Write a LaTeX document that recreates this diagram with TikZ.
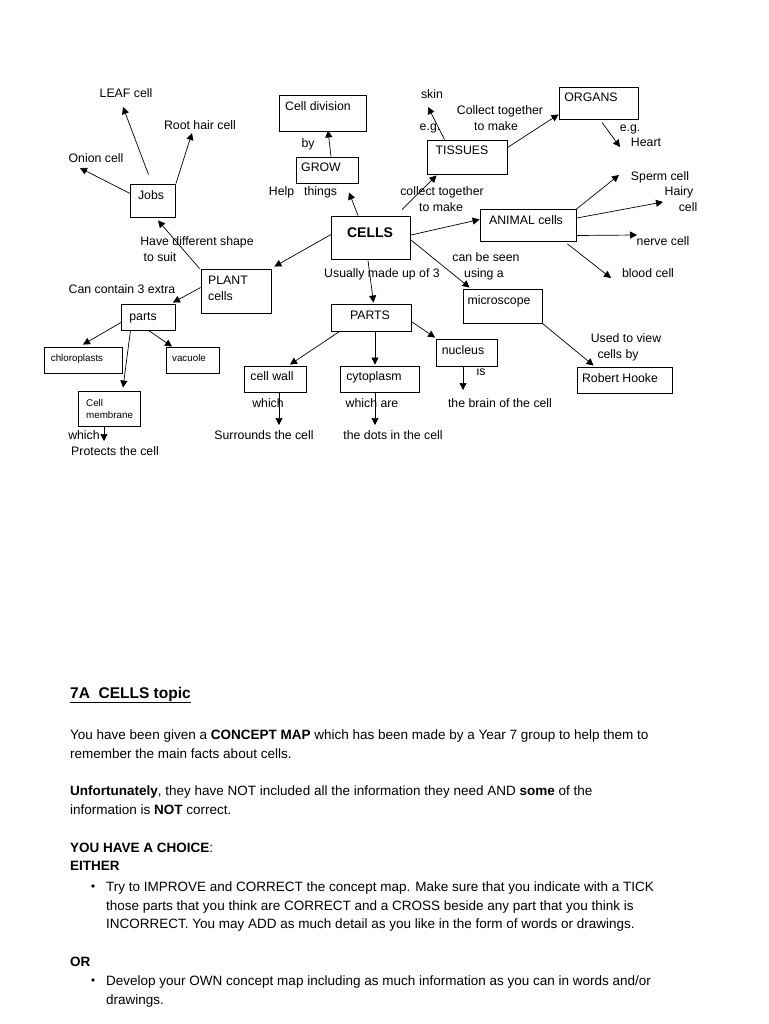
\documentclass[tikz,border=0pt]{standalone}
\usepackage{fontspec}
\setmainfont{Liberation Sans}
\usetikzlibrary{arrows.meta}
\begin{document}
\begin{tikzpicture}[x=1pt,y=-1pt,
  box/.style={draw, line width=0.9pt, inner sep=0pt},
  lbl/.style={inner sep=0pt, text height=8.5pt, text depth=2.5pt, font=\fontsize{12.3}{14}\selectfont},
  sm/.style={inner sep=0pt, text height=7pt, text depth=2pt, font=\fontsize{9.8}{11}\selectfont},
  txt/.style={inner sep=0pt, anchor=base west, font=\fontsize{13.5}{16}\selectfont},
  arr/.style={line width=0.7pt, -{Triangle[length=7pt,width=7pt]}},
]
\useasboundingbox[fill=white] (0,0) rectangle (768,1024);

% ---------- boxes ----------
\node[box, minimum width=87pt, minimum height=36pt] (celldiv) at (322.5,113) {};
\node[box, minimum width=62pt, minimum height=26pt] (grow) at (327,170) {};
\node[box, minimum width=79pt, minimum height=43pt] (cells) at (371,237.5) {};
\node[box, minimum width=80pt, minimum height=34pt] (tissues) at (467,157) {};
\node[box, minimum width=79pt, minimum height=32pt] (organs) at (598.5,103) {};
\node[box, minimum width=96pt, minimum height=32pt] (animal) at (528,225.5) {};
\node[box, minimum width=45pt, minimum height=33pt] (jobs) at (153,200.5) {};
\node[box, minimum width=70pt, minimum height=44pt] (plant) at (236,291) {};
\node[box, minimum width=54pt, minimum height=26pt] (parts) at (148.5,317) {};
\node[box, minimum width=78pt, minimum height=26pt] (chloro) at (83,360) {};
\node[box, minimum width=53pt, minimum height=26pt] (vacuole) at (192.5,360) {};
\node[box, minimum width=62pt, minimum height=35pt] (membrane) at (109,408.5) {};
\node[box, minimum width=80pt, minimum height=27pt] (PARTS) at (371,317.5) {};
\node[box, minimum width=62pt, minimum height=26pt] (cellwall) at (275,379) {};
\node[box, minimum width=79pt, minimum height=26pt] (cytoplasm) at (379.5,379) {};
\node[box, minimum width=61pt, minimum height=27pt] (nucleus) at (467,352.5) {};
\node[box, minimum width=79pt, minimum height=34pt] (microscope) at (502.5,306) {};
\node[box, minimum width=95pt, minimum height=26pt] (hooke) at (624.5,380) {};

% ---------- box texts ----------
\node[lbl] (tcelldiv) at (318,108) {Cell division};
\node[lbl] (tgrow) at (321,169) {GROW};
\node[inner sep=0pt, text height=10pt, text depth=0pt, font=\fontsize{14}{16}\selectfont\bfseries] (tcells) at (370,232) {CELLS};
\node[lbl] (ttissues) at (462,152) {TISSUES};
\node[lbl] (torgans) at (591,99) {ORGANS};
\node[lbl] (tanimal) at (526,222) {ANIMAL cells};
\node[lbl] (tjobs) at (151,197) {Jobs};
\node[lbl, anchor=west] (tplant1) at (208,281) {PLANT};
\node[lbl, anchor=west] (tplant2) at (208,297) {cells};
\node[lbl] (tparts) at (143,317) {parts};
\node[sm] (tchloro) at (77,359) {chloroplasts};
\node[sm] (tvacuole) at (189,359) {vacuole};
\node[sm, anchor=west] (tmem1) at (86,404) {Cell};
\node[sm, anchor=west] (tmem2) at (86,416) {membrane};
\node[lbl] (tPARTS) at (370,316) {PARTS};
\node[lbl] (tcellwall) at (272,377) {cell wall};
\node[lbl] (tcyto) at (374,377) {cytoplasm};
\node[lbl] (tnucleus) at (463,351) {nucleus};
\node[lbl] (tmicro) at (499,301) {microscope};
\node[lbl] (thooke) at (620,379) {Robert Hooke};

% ---------- free labels ----------
\node[lbl] (leaf) at (126,95) {LEAF cell};
\node[lbl] (root) at (200,127) {Root hair cell};
\node[lbl] (onion) at (96,160) {Onion cell};
\node[lbl] (hds1) at (197,242) {Have different shape};
\node[lbl] (hds2) at (160,258) {to suit};
\node[lbl] (cc3) at (122,290) {Can contain 3 extra};
\node[lbl] (by) at (308,145) {by};
\node[lbl] (help) at (303,193) {Help\hspace{10pt}things};
\node[lbl] (skin) at (432,96) {skin};
\node[lbl] (eg1) at (430,128) {e.g.};
\node[lbl] (ct1) at (500,112) {Collect together};
\node[lbl] (ct2) at (496,128) {to make};
\node[lbl] (eg2) at (630,129) {e.g.};
\node[lbl] (heart) at (646,144) {Heart};
\node[lbl] (ct3) at (442,193) {collect together};
\node[lbl] (ct4) at (441,209) {to make};
\node[lbl] (sperm) at (660,178) {Sperm cell};
\node[lbl] (hairy1) at (679,193) {Hairy};
\node[lbl] (hairy2) at (688,209) {cell};
\node[lbl] (nerve) at (663,242) {nerve cell};
\node[lbl] (blood) at (648,274) {blood cell};
\node[lbl] (cbs1) at (486,258) {can be seen};
\node[lbl] (cbs2) at (484,274) {using a};
\node[lbl] (usually) at (382,274) {Usually made up of 3};
\node[lbl] (used1) at (626,339) {Used to view};
\node[lbl] (used2) at (618,355) {cells by};
\node[lbl] (is) at (481,372) {is};
\node[lbl] (brain) at (500,404) {the brain of the cell};
\node[lbl] (which1) at (268,404) {which};
\node[lbl] (surr) at (264,436) {Surrounds the cell};
\node[lbl] (which2) at (372,404) {which are};
\node[lbl] (dots) at (393,436) {the dots in the cell};
\node[lbl] (which3) at (84,436) {which};
\node[lbl] (protects) at (115,452) {Protects the cell};

% ---------- arrow tips ----------
\coordinate (tLeaf) at (123,107);
\coordinate (tRoot) at (192,133);
\coordinate (tOnion) at (80,168);
\coordinate (tSkin) at (428,107);
\coordinate (tHeart) at (620,147);
\coordinate (tSperm) at (619,175);
\coordinate (tHairy) at (663,202);
\coordinate (tNerve) at (637,235);
\coordinate (tBlood) at (611,278);
\coordinate (tProt) at (104,441);
\coordinate (tSurr) at (279,425);
\coordinate (tDots) at (375,425);
\coordinate (tBrain) at (463,390);

% ---------- connectors ----------
\draw[arr] ([xshift=-4.5pt,yshift=9pt]jobs.north) -- (tLeaf);
\draw[arr] (jobs.north east) -- (tRoot);
\draw[arr] ([yshift=7pt]jobs.west) -- (tOnion);
\draw[arr] ([xshift=-1pt]plant.north west) -- ([xshift=5pt,yshift=-3pt]jobs.south);
\draw[arr] ([yshift=3pt]cells.west) -- ([xshift=3pt,yshift=2pt]plant.north east);
\draw[arr] ([xshift=-13pt]cells.north) -- ([xshift=22pt,yshift=-9pt]grow.south);
\draw[arr] ([xshift=4pt]grow.north) -- ([xshift=5.5pt,yshift=1pt]celldiv.south);
\draw[arr] ([xshift=31pt,yshift=6pt]cells.north) -- ([xshift=10pt,yshift=-1pt]tissues.south west);
\draw[arr] ([xshift=18pt]tissues.north west) -- (tSkin);
\draw[arr] ([yshift=-8pt]tissues.north east) -- ([yshift=5pt]organs.south west);
\draw[arr] ([xshift=3.5pt,yshift=-3pt]organs.south) -- (tHeart);
\draw[arr] ([yshift=2.5pt]cells.east) -- ([yshift=6pt]animal.west);
\draw[arr] (animal.north east) -- (tSperm);
\draw[arr] ([yshift=-9pt]animal.north east) -- (tHairy);
\draw[arr] ([yshift=-10pt]animal.east) -- (tNerve);
\draw[arr] ([xshift=-9pt,yshift=-2pt]animal.south east) -- (tBlood);
\draw[arr] ([yshift=-2.5pt]cells.east) -- ([xshift=7pt,yshift=1pt]microscope.north west);
\draw[arr] ([xshift=-3pt,yshift=-1pt]cells.south) -- ([xshift=2.5pt,yshift=1pt]PARTS.north);
\draw[arr] ([yshift=-19pt]plant.north west) -- ([xshift=-3pt,yshift=1pt]parts.north east);
\draw[arr] ([yshift=8pt]parts.south west) -- ([yshift=2pt]chloro.north);
\draw[arr] (parts.south) -- ([xshift=-20.5pt]vacuole.north);
\draw[arr] ([xshift=-18pt]parts.south) -- ([xshift=14pt,yshift=3pt]membrane.north);
\draw[arr] ([xshift=-5pt]membrane.south) -- (tProt);
\draw[arr] ([xshift=9pt]PARTS.south west) -- ([xshift=15pt,yshift=1pt]cellwall.north);
\draw[arr] ([xshift=4pt]PARTS.south) -- ([xshift=-4.5pt,yshift=1pt]cytoplasm.north);
\draw[arr] ([yshift=-18pt]PARTS.north east) -- ([xshift=-1pt,yshift=1pt]nucleus.north west);
\draw[arr] ([xshift=4pt]cellwall.south) -- (tSurr);
\draw[arr] ([xshift=-4.5pt]cytoplasm.south) -- (tDots);
\draw[arr] ([xshift=-4pt]nucleus.south) -- (tBrain);
\draw[arr] (microscope.south east) -- ([xshift=17pt,yshift=1pt]hooke.north west);

% ---------- lower text ----------
\node[txt, font=\fontsize{15.5}{18}\selectfont\bfseries] (title) at (70,698) {\underline{7A\ \ CELLS topic}};
\node[txt] (l1) at (70,739) {You have been given a \textbf{CONCEPT MAP} which has been made by a Year 7 group to help them to};
\node[txt] (l2) at (70,758) {remember the main facts about cells.};
\node[txt] (l3) at (70,795) {\textbf{Unfortunately}, they have NOT included all the information they need AND \textbf{some} of the};
\node[txt] (l4) at (70,814) {information is \textbf{NOT} correct.};
\node[txt] (l5) at (70,852) {\textbf{YOU HAVE A CHOICE}:};
\node[txt] (l6) at (70,870) {\textbf{EITHER}};
\fill (93,886) circle (1.8pt);
\node[txt] (l7) at (106,891) {Try to IMPROVE and CORRECT the concept map. Make sure that you indicate with a TICK};
\node[txt] (l8) at (106,910) {those parts that you think are CORRECT and a CROSS beside any part that you think is};
\node[txt] (l9) at (106,928) {INCORRECT. You may ADD as much detail as you like in the form of words or drawings.};
\node[txt] (l10) at (70,966) {\textbf{OR}};
\fill (93,980) circle (1.8pt);
\node[txt] (l11) at (106,985) {Develop your OWN concept map including as much information as you can in words and/or};
\node[txt] (l12) at (106,1004) {drawings.};
\end{tikzpicture}
\end{document}
